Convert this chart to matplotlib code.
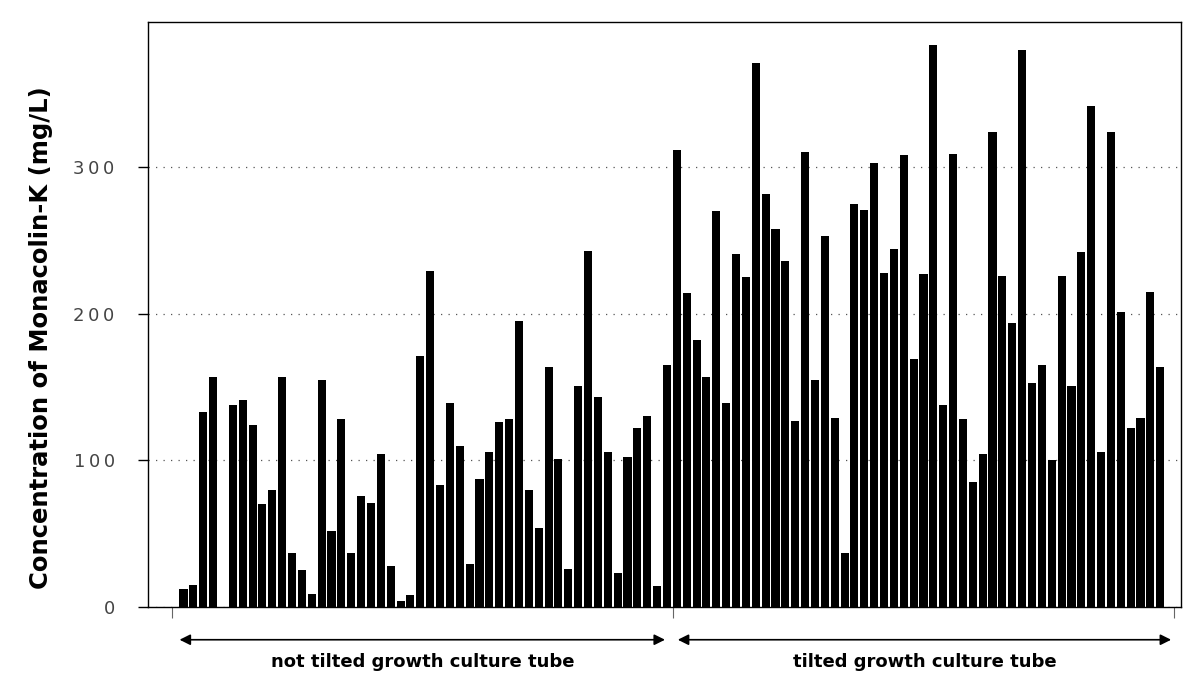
import numpy as np
import matplotlib
matplotlib.use("Agg")
import matplotlib.pyplot as plt

# bar heights (mg/L), one slot per tube
not_tilted = [12, 15, 133, 157, 0, 138, 141, 124, 70, 80,
              157, 37, 25, 9, 155, 52, 128, 37, 76, 71,
              104, 28, 4, 8, 171, 229, 83, 139, 110, 29,
              87, 106, 126, 128, 195, 80, 54, 164, 101, 26,
              151, 243, 143, 106, 23, 102, 122, 130, 14, 165]
tilted = [312, 214, 182, 157, 270, 139, 241, 225, 371, 282,
          258, 236, 127, 310, 155, 253, 129, 37, 275, 271,
          303, 228, 244, 308, 169, 227, 383, 138, 309, 128,
          85, 104, 324, 226, 194, 380, 153, 165, 100, 226,
          151, 242, 342, 106, 324, 201, 122, 129, 215, 164]
group_labels = ["not tilted growth culture tube", "tilted growth culture tube"]
y_ticks = [0, 100, 200, 300]

values = not_tilted + tilted
x = np.arange(len(values))

fig = plt.figure(figsize=(11.83, 6.76), dpi=100)
ax = fig.add_axes([0.1251, 0.1021, 0.8732, 0.8654])

ax.bar(x, values, width=0.82, color="black", zorder=2)

ax.set_xlim(-3.6, 101.1)
ax.set_ylim(0, 399)
ax.set_yticks(y_ticks)
# wide letter spacing like the original tick labels
ax.set_yticklabels(["\u2009".join(str(v)) for v in y_ticks], fontsize=13,
                   color="#444444", family="DejaVu Sans")
ax.yaxis.grid(True, linestyle=(0, (1, 5)), color="#555555", lw=0.9, zorder=1)
ax.tick_params(axis="y", direction="out", length=7, pad=17, width=1)

# group boundary ticks on the x axis
n1 = len(not_tilted)
ax.set_xticks([-1.2, n1 - 0.4, len(values) + 0.4])
ax.set_xticklabels([])
ax.tick_params(axis="x", direction="out", length=8, color="#666666")

for s in ax.spines.values():
    s.set_linewidth(1)
    s.set_color("black")

ax.set_ylabel("Concentration of Monacolin-K (mg/L)", fontsize=17.5,
              fontweight="bold", family="DejaVu Sans", labelpad=10)
ax.yaxis.set_label_coords(-0.092, 0.46)

# arrows and group labels under the axis
trans = ax.get_xaxis_transform()
spans = [(-0.4, n1 - 1.2), (n1 + 0.1, len(values) + 0.1)]
for (a, b), lab in zip(spans, group_labels):
    ax.annotate("", xy=(a, -0.056), xytext=(b, -0.056), xycoords=trans,
                textcoords=trans,
                arrowprops=dict(arrowstyle="<|-|>", color="black", lw=1.2,
                                mutation_scale=16, shrinkA=0, shrinkB=0))
    ax.text((a + b) / 2, -0.094, lab, transform=trans, ha="center", va="center",
            fontsize=13, fontweight="bold",
            family=["Liberation Sans Narrow", "DejaVu Sans"])

fig.savefig("out.png", dpi=100)
